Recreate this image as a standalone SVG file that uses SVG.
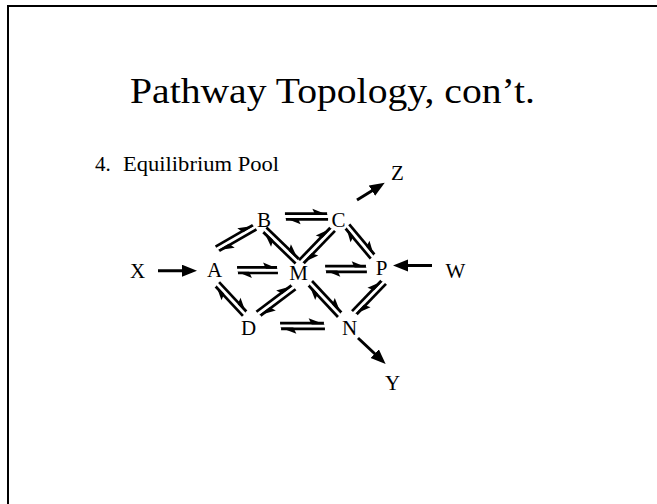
<svg xmlns="http://www.w3.org/2000/svg" xmlns:xlink="http://www.w3.org/1999/xlink" width="657" height="504" viewBox="0 0 657 504">
<style>
.t{font-family:"Liberation Serif","Times New Roman",serif;fill:#000}
.n{font-size:21px;text-anchor:middle}
.ln{stroke:#000;stroke-width:2.7;fill:none}
.ar{stroke:#000;stroke-width:3;fill:none}
.hd{fill:#000;stroke:none}
</style>
<defs>
<g id="eq">
<line class="ln" x1="-22" y1="-2.8" x2="21" y2="-2.8"/>
<path class="hd" d="M22,-1.45 L6,-7.8 L9,-1.45 Z"/>
<line class="ln" x1="-21" y1="2.8" x2="22" y2="2.8"/>
<path class="hd" d="M-22,1.45 L-6,7.8 L-9,1.45 Z"/>
</g>
<marker id="ah" markerUnits="userSpaceOnUse" markerWidth="18" markerHeight="14" refX="10" refY="6" orient="auto">
<path d="M0,0 L15,6 L0,12 Z" fill="#000"/>
</marker>
</defs>
<rect x="8" y="6" width="700" height="600" fill="none" stroke="#000" stroke-width="2"/>
<text class="t" x="332.5" y="103" font-size="36" text-anchor="middle" textLength="405" lengthAdjust="spacingAndGlyphs">Pathway Topology, con’t.</text>
<g id="subtitle">
<text class="t" x="95" y="171" font-size="21">4.</text>
<text class="t" x="123" y="171" font-size="21" textLength="156" lengthAdjust="spacingAndGlyphs">Equilibrium Pool</text>
</g>
<g id="nodes">
<g id="node-B"><text class="t n" x="264" y="227">B</text></g>
<g id="node-C"><text class="t n" x="338.5" y="227">C</text></g>
<g id="node-X"><text class="t n" x="137.5" y="278">X</text></g>
<g id="node-A"><text class="t n" x="214.5" y="277">A</text></g>
<g id="node-M"><text class="t n" x="298.5" y="280">M</text></g>
<g id="node-P"><text class="t n" x="381.5" y="275">P</text></g>
<g id="node-W"><text class="t n" x="455.5" y="278">W</text></g>
<g id="node-D"><text class="t n" x="248.5" y="335">D</text></g>
<g id="node-N"><text class="t n" x="349.5" y="335">N</text></g>
<g id="node-Y"><text class="t n" x="392.5" y="390">Y</text></g>
<g id="node-Z"><text class="t n" x="397.5" y="180">Z</text></g>
</g>
<g id="connectors">
<use xlink:href="#eq" transform="translate(236,238) rotate(-30)"/>
<use xlink:href="#eq" transform="translate(281,245.5) rotate(44) scale(1.045,1)"/>
<use xlink:href="#eq" transform="translate(317,245.5) rotate(-46) scale(1.045,1)"/>
<use xlink:href="#eq" transform="translate(360,241.5) rotate(50) scale(0.91,1)"/>
<use xlink:href="#eq" transform="translate(231,299) rotate(47) scale(0.93,1)"/>
<use xlink:href="#eq" transform="translate(276,300.5) rotate(-37) scale(1.02,1)"/>
<use xlink:href="#eq" transform="translate(325,299) rotate(47)"/>
<use xlink:href="#eq" transform="translate(369,297.5) rotate(-46) scale(0.98,1)"/>
<use xlink:href="#eq" transform="translate(257.5,270.2) scale(0.93,1)"/>
<use xlink:href="#eq" transform="translate(346,269) scale(0.95,1)"/>
<use xlink:href="#eq" transform="translate(306.5,216.5) scale(0.98,1)"/>
<use xlink:href="#eq" transform="translate(302.5,326) scale(1.02,1)"/>
<line class="ar" x1="158" y1="270.7" x2="192" y2="270.7" marker-end="url(#ah)"/>
<line class="ar" x1="432" y1="265.5" x2="398" y2="265.5" marker-end="url(#ah)"/>
<line class="ar" x1="357" y1="200" x2="380.5" y2="185.5" marker-end="url(#ah)"/>
<line class="ar" x1="358" y1="338" x2="382" y2="360.5" marker-end="url(#ah)"/>
</g>
</svg>
